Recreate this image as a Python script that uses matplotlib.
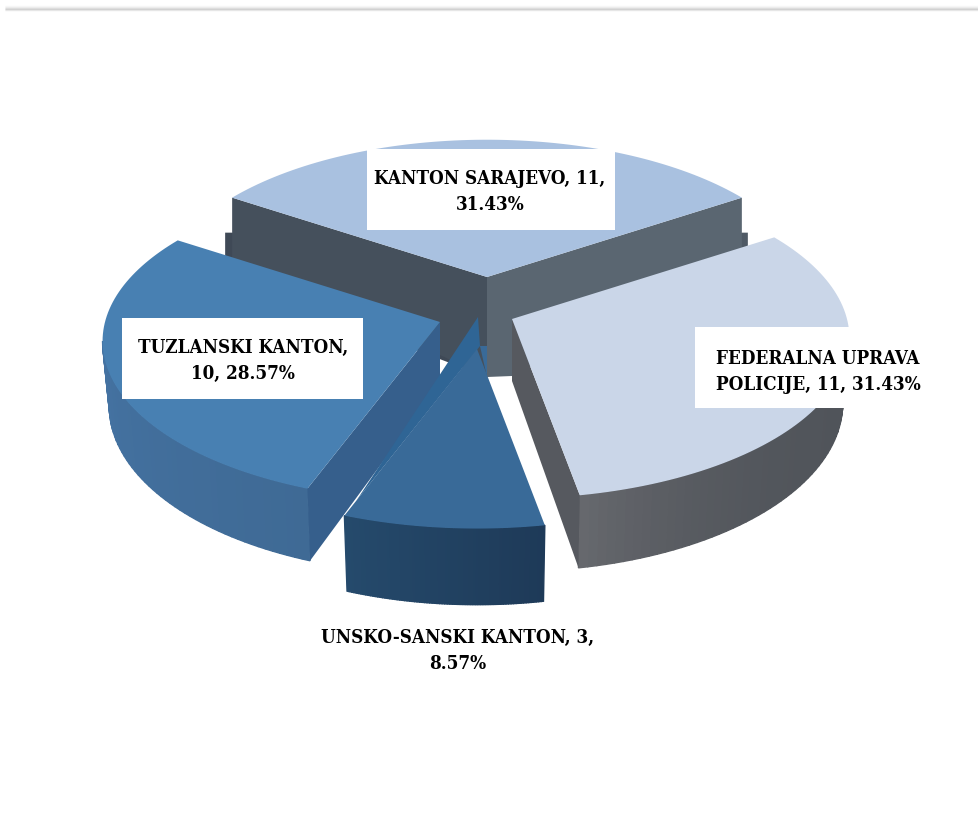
import numpy as np
import matplotlib
matplotlib.use("Agg")
import matplotlib.pyplot as plt
from matplotlib.colors import to_rgb

# data of the chart
names = ["KANTON SARAJEVO", "FEDERALNA UPRAVA POLICIJE", "UNSKO-SANSKI KANTON", "TUZLANSKI KANTON"]
values = [11, 11, 3, 10]
label_texts = ["KANTON SARAJEVO, 11,\n31.43%",
               "FEDERALNA UPRAVA\nPOLICIJE, 11, 31.43%",
               "UNSKO-SANSKI KANTON, 3,\n8.57%",
               "TUZLANSKI KANTON,\n10, 28.57%"]

# look of the 3d pie (pixels of the figure)
centers = [(487, 278), (512, 320), (477, 350), (440, 323)]
radii = [0.97, 1.0, 1.0, 1.0]
depths = [64, 64, 67, 64]
top_colors = ["#A9C1E0", "#CAD6E8", "#396A98", "#4880B2"]
side_colors = [("#45505C", "#45505C"), ("#50545A", "#66686D"), ("#1E3A58", "#254A6C"), ("#3F6A95", "#4878AA")]
label_pos = [(490, 192), (818, 372), (458, 651), (243, 361)]
label_boxes = [(367, 150, 248, 81), (695, 328, 226, 81), None, (122, 319, 241, 81)]
R_x, R_y, k = 335, 158, 0.12
bottom_shrink = 0.98


def project(i, ang):
    # ang in degrees, clockwise from the top of the pie
    u = radii[i] * np.sin(np.radians(ang))
    v = radii[i] * np.cos(np.radians(ang))
    w = 1 + k * v
    return centers[i][0] + R_x * u / w, centers[i][1] - R_y * v / w, depths[i] / w


fig, ax = plt.subplots(figsize=(9.79, 8.20), dpi=100)
fig.subplots_adjust(0, 0, 1, 1)
ax.set_xlim(0, 979)
ax.set_ylim(820, 0)
ax.axis("off")

# thin shadow line at the top of the page
for y, g in zip([7, 8, 9, 10, 11], ["#F8F8F8", "#EFEFEF", "#E2E2E2", "#CDCDCD", "#E6E6E6"]):
    ax.plot([5, 979], [y, y], color=g, lw=1, solid_capstyle="butt")

sweep = np.array(values) / sum(values) * 360
starts = -sweep[0] / 2 + np.concatenate([[0], np.cumsum(sweep)[:-1]])


def rim(i):
    return np.linspace(starts[i], starts[i] + sweep[i], 80)


# back slice has its two cut faces visible, with the little step at the corners
c = centers[0]
lx, ly, _ = project(0, starts[0])
rx, ry, _ = project(0, starts[0] + sweep[0])
ax.fill([lx - 7, lx, c[0], c[0], lx - 7], [ly + 35, ly + 35, c[1] + 60, c[1] + 100, ly + 80], color="#3F4956", lw=0)
ax.fill([rx + 6, rx, c[0], c[0], rx + 6], [ry + 35, ry + 35, c[1] + 60, c[1] + 100, ry + 80], color="#4F5A65", lw=0)
ax.fill([lx, c[0], c[0], lx], [ly, c[1], c[1] + 100, ly + 60], color="#45505C", lw=0)
ax.fill([rx, c[0], c[0], c[0] + 25, rx], [ry, c[1], c[1] + 100, c[1] + 99, ry + 60], color="#5A6671", lw=0)
x, y, d = project(0, rim(0))
ax.fill(np.r_[c[0], x], np.r_[c[1], y], color=top_colors[0], lw=0)

# other slices, back to front
for i in [3, 2, 1]:
    c = centers[i]
    a = rim(i)
    x, y, d = project(i, a)
    bx = c[0] + (x - c[0]) * bottom_shrink
    # outer side, small quads for the shading
    c0, c1 = np.array(to_rgb(side_colors[i][0])), np.array(to_rgb(side_colors[i][1]))
    for j in range(len(a) - 1):
        if np.cos(np.radians(a[j])) > -0.1 or np.cos(np.radians(a[j + 1])) > -0.1:
            continue
        t = j / (len(a) - 2)
        col = c0 + (c1 - c0) * t
        if i == 1:
            col = c0 + (c1 - c0) * t ** 6
        ax.fill([x[j], x[j + 1], bx[j + 1], bx[j]], [y[j], y[j + 1], y[j + 1] + d[j + 1], y[j] + d[j]],
                color=col, lw=1)
    # cut face that looks to the viewer
    if i == 3:
        ax.fill([c[0], x[0], bx[0], c[0]], [c[1], y[0], y[0] + d[0], c[1] + 62], color="#365F8C", lw=0)
    if i == 1:
        ax.fill([c[0], x[-1], bx[-1], c[0]], [c[1], y[-1], y[-1] + d[-1], c[1] + 62], color="#56595F", lw=0)
    if i == 2:
        # narrow lighter strip along the left edge of the small slice
        px, py = x[-1], y[-1]
        ax.fill([c[0] + 1, c[0] + 3, px + 12], [c[1] - 32, c[1] - 3, py - 15], color="#2F6595", lw=0)
        ax.fill([c[0] + 3, c[0] + 10, c[0] + 10], [c[1] - 3, c[1] - 3, c[1] + 28], color=top_colors[2], lw=0)
    ax.fill(np.r_[c[0], x], np.r_[c[1], y], color=top_colors[i], lw=0)

# labels
for txt, pos, box in zip(label_texts, label_pos, label_boxes):
    if box is not None:
        ax.fill([box[0], box[0] + box[2], box[0] + box[2], box[0]],
                [box[1], box[1], box[1] + box[3], box[1] + box[3]], color="white", lw=0)
    ax.text(pos[0], pos[1], txt, ha="center", va="center", ma="center", family="DejaVu Serif", stretch="condensed",
            weight="bold", fontsize=13.5, linespacing=1.55, color="black")

plt.savefig("out.png", dpi=100)
